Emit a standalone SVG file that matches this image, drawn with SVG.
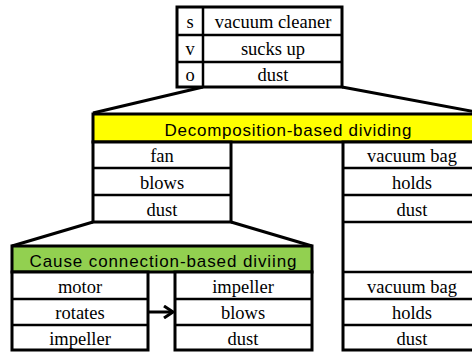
<svg xmlns="http://www.w3.org/2000/svg" width="472" height="354" viewBox="0 0 472 354">
<defs>
<style>
.box{fill:#fff;stroke:#000;stroke-width:3}
.sep{stroke:#000;stroke-width:2.5;fill:none}
.t{font-family:"Liberation Serif","Times New Roman",serif;font-size:18.5px;text-anchor:middle;fill:#000}
.g{font-family:"Liberation Sans",Arial,sans-serif;font-size:17px;text-anchor:middle;fill:#000}
.conn{stroke:#000;stroke-width:3;fill:none}
</style>
<marker id="ah" markerWidth="12" markerHeight="14" refX="10" refY="7" orient="auto" markerUnits="userSpaceOnUse">
<polyline points="1,1 10,7 1,13" fill="none" stroke="#000" stroke-width="3"/>
</marker>
</defs>
<rect width="472" height="354" fill="#fff"/>
<g id="connectors">
<line class="conn" x1="203" y1="87" x2="93" y2="113"/>
<line class="conn" x1="342" y1="87" x2="481" y2="113"/>
<line class="conn" x1="93" y1="222" x2="12" y2="246"/>
<line class="conn" x1="231" y1="222" x2="312" y2="246"/>
<line class="conn" x1="149" y1="312" x2="173" y2="312" marker-end="url(#ah)"/>
</g>
<g id="top-table">
<rect class="box" x="177" y="7" width="165" height="80"/>
<line class="sep" x1="177" y1="35" x2="342" y2="35"/>
<line class="sep" x1="177" y1="62" x2="342" y2="62"/>
<line class="sep" x1="203" y1="7" x2="203" y2="87"/>
<text class="t" x="190" y="28">s</text>
<text class="t" x="190" y="55">v</text>
<text class="t" x="190" y="81">o</text>
<text class="t" x="273" y="28">vacuum cleaner</text>
<text class="t" x="273" y="55">sucks up</text>
<text class="t" x="273" y="81">dust</text>
</g>
<g id="decomposition">
<rect x="93" y="114" width="388" height="28" fill="#FFFF00" stroke="#000" stroke-width="3"/>
<text class="g" x="288" y="136" textLength="247" lengthAdjust="spacing">Decomposition-based dividing</text>
<rect class="box" x="93" y="142" width="138" height="80"/>
<line class="sep" x1="93" y1="168" x2="231" y2="168"/>
<line class="sep" x1="93" y1="195" x2="231" y2="195"/>
<text class="t" x="162" y="162">fan</text>
<text class="t" x="162" y="189">blows</text>
<text class="t" x="162" y="216">dust</text>
</g>
<g id="right-column">
<rect class="box" x="343" y="142" width="138" height="208"/>
<line class="sep" x1="343" y1="168" x2="481" y2="168"/>
<line class="sep" x1="343" y1="195" x2="481" y2="195"/>
<line class="sep" x1="343" y1="222" x2="481" y2="222"/>
<line class="sep" x1="343" y1="272" x2="481" y2="272"/>
<line class="sep" x1="343" y1="299" x2="481" y2="299"/>
<line class="sep" x1="343" y1="325" x2="481" y2="325"/>
<text class="t" x="412" y="162">vacuum bag</text>
<text class="t" x="412" y="189">holds</text>
<text class="t" x="412" y="216">dust</text>
<text class="t" x="412" y="293">vacuum bag</text>
<text class="t" x="412" y="319">holds</text>
<text class="t" x="412" y="345">dust</text>
</g>
<g id="cause-connection">
<rect x="12" y="246" width="300" height="26" fill="#92D050" stroke="#000" stroke-width="3"/>
<text class="g" x="163" y="267" textLength="267" lengthAdjust="spacing">Cause connection-based diviing</text>
<rect class="box" x="12" y="272" width="136" height="78"/>
<line class="sep" x1="12" y1="299" x2="148" y2="299"/>
<line class="sep" x1="12" y1="325" x2="148" y2="325"/>
<text class="t" x="80" y="293">motor</text>
<text class="t" x="80" y="319">rotates</text>
<text class="t" x="80" y="345">impeller</text>
<rect class="box" x="175" y="272" width="137" height="78"/>
<line class="sep" x1="175" y1="299" x2="312" y2="299"/>
<line class="sep" x1="175" y1="325" x2="312" y2="325"/>
<text class="t" x="243" y="293">impeller</text>
<text class="t" x="243" y="319">blows</text>
<text class="t" x="243" y="345">dust</text>
</g>
</svg>
